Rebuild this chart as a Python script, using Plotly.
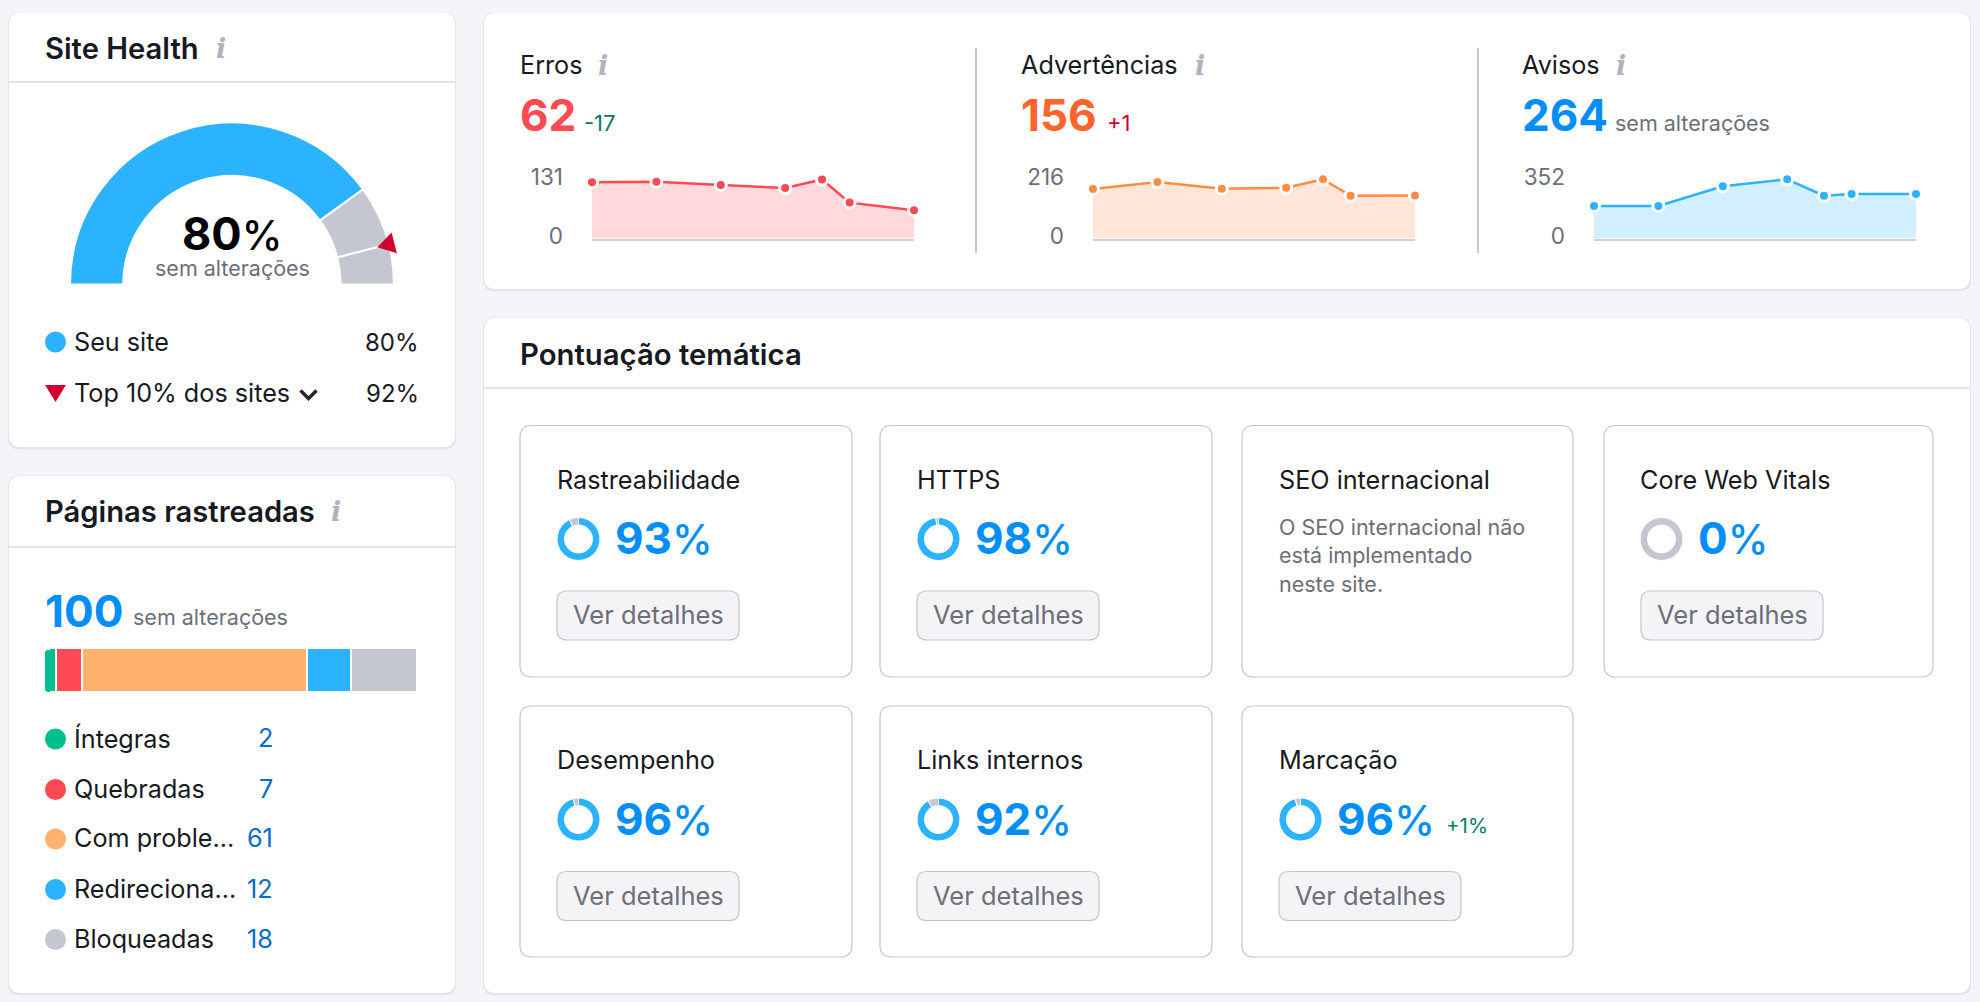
import math
import plotly.graph_objects as go

W, H = 1980, 1002
FONT = "Inter"
INK = "#171A22"
MUTED = "#6C6E79"
GREY = "#C4C7CF"
BLUE = "#2BB3FF"
BLUE_TXT = "#008FF8"
ICON = "#B0B3BF"
GREEN_TXT = "#007C65"
RED_MARK = "#D1002F"

# ---------- data ----------
health_value = 80
health_top = 92
health_rest = 100 - health_top

page_labels = ["Íntegras", "Quebradas", "Com proble...", "Redireciona...", "Bloqueadas"]
page_values = [2, 7, 61, 12, 18]
page_colors = ["#00BF8F", "#FF4953", "#FFB26E", "#2BB3FF", "#C4C7CF"]

spark_days = [0, 7, 14, 21, 25, 28, 35]
errors = [124, 125, 118, 111, 130, 79, 62]
warnings = [180, 205, 181, 184, 215, 155, 156]
notices = [193, 193, 309, 350, 253, 264, 264]
spark_max = [131, 216, 352]

theme_names = ["Rastreabilidade", "HTTPS", "Core Web Vitals", "Desempenho", "Links internos", "Marcação"]
theme_scores = [93, 98, 0, 96, 92, 96]
theme_delta = ["", "", "", "", "", "+1%"]

fig = go.Figure()
shapes, annos = [], []


def text(x, y, s, size=25.2, color=INK, weight=400, anchor="left", family=FONT, italic=False):
    dx = -1.5 if anchor == "left" else (2 if anchor == "right" else 0)
    annos.append(dict(x=x + dx, y=y, xref="x", yref="y", text=s, showarrow=False, xanchor=anchor,
                      yanchor="middle", borderpad=0, align=anchor,
                      font=dict(family=family, size=size, color=color, weight=weight,
                                style="italic" if italic else "normal")))


def pct(v):
    return f'{v}<span style="font-size:41px;font-weight:500">%</span>'


def rrect(x0, y0, x1, y1, r, fill=None, line=None, lw=1):
    p = (f"M{x0+r},{y0} L{x1-r},{y0} Q{x1},{y0} {x1},{y0+r} L{x1},{y1-r} Q{x1},{y1} {x1-r},{y1} "
         f"L{x0+r},{y1} Q{x0},{y1} {x0},{y1-r} L{x0},{y0+r} Q{x0},{y0} {x0+r},{y0} Z")
    shapes.append(dict(type="path", path=p, xref="x", yref="y", layer="below",
                       fillcolor=fill or "rgba(0,0,0,0)",
                       line=dict(color=line or "rgba(0,0,0,0)", width=lw if line else 0)))


def hline(x0, x1, y, color="#E4E5EB", lw=2):
    shapes.append(dict(type="line", x0=x0, x1=x1, y0=y, y1=y, xref="x", yref="y", layer="below",
                       line=dict(color=color, width=lw)))


def vline(x, y0, y1, color=GREY, lw=2):
    shapes.append(dict(type="line", x0=x, x1=x, y0=y0, y1=y1, xref="x", yref="y", layer="below",
                       line=dict(color=color, width=lw)))


def card(x0, y0, x1, y1):
    rrect(x0 - 1, y0 - 0.5, x1 + 1, y1 + 2.5, 12, fill="#E3E5EB")
    rrect(x0, y0, x1, y1, 12, fill="#FFFFFF")


def info(x, y):
    text(x, y, "i", size=27, color=ICON, weight=700, anchor="center",
         family="DejaVu Serif", italic=True)


def dom_x(a, b):
    return [a / W, b / W]


def dom_y(top, bottom):
    return [1 - bottom / H, 1 - top / H]


def ring(cx, cy, r, values, colors, hole, widths):
    fig.add_trace(go.Pie(values=values, sort=False, direction="clockwise",
                         rotation=270 if len(values) == 4 else 0,
                         hole=hole, textinfo="none", hoverinfo="skip", showlegend=False,
                         marker=dict(colors=colors, line=dict(color="#FFFFFF", width=widths)),
                         domain=dict(x=dom_x(cx - r, cx + r), y=dom_y(cy - r, cy + r))))


# ---------- background cards ----------
card(9, 12.5, 455, 447)
card(9, 476, 455, 993)
card(484, 12.5, 1970, 289)
card(484, 318, 1970, 993)
hline(9, 455, 82)
hline(9, 455, 547)
hline(484, 1970, 388)

# ---------- Site Health ----------
text(45, 48, "Site Health", size=29.2, weight=600)
info(221, 48)
gx, gy, gr = 232, 284.5, 161
ring(gx, gy, gr + 1, [health_value, health_top - health_value, health_rest, 100],
     [BLUE, GREY, GREY, "rgba(0,0,0,0)"], 108.7 / 162, [2, 2, 2, 0])
text(232, 233, pct(health_value), size=45, color="#000000", weight=700, anchor="center")
text(232, 268, "sem alterações", size=21.5, color=MUTED, anchor="center")
a = math.radians(180 * (1 - health_top / 100))
ux, uy = math.cos(a), -math.sin(a)
tip = (gx + 150 * ux, gy + 150 * uy)
bc = (gx + 167.5 * ux, gy + 167.5 * uy)
p1 = (bc[0] - 10.7 * uy, bc[1] + 10.7 * ux)
p2 = (bc[0] + 10.7 * uy, bc[1] - 10.7 * ux)
shapes.append(dict(type="path", xref="x", yref="y", layer="above", fillcolor=RED_MARK,
                   line=dict(width=0),
                   path=f"M{tip[0]},{tip[1]} L{p1[0]},{p1[1]} L{p2[0]},{p2[1]} Z"))

key_y = [342, 393]
text(74, key_y[0], "Seu site")
text(74, key_y[1], "Top 10% dos sites")
text(418, key_y[0], f"{health_value}%", size=24, anchor="right")
text(418, key_y[1], f"{health_top}%", size=24, anchor="right")
shapes.append(dict(type="path", xref="x", yref="y", layer="above", path="M300.5,390.5 L308.5,398.5 L316.5,390.5",
                   line=dict(color="#24272E", width=3.5)))
shapes.append(dict(type="path", xref="x", yref="y", layer="above", fillcolor=RED_MARK, line=dict(width=0),
                   path="M45,385 L66,385 L55.5,402 Z"))

# ---------- Páginas rastreadas ----------
text(45, 511, "Páginas rastreadas", size=29.2, weight=600)
info(336, 511)
text(45, 611, "100", size=44, color=BLUE_TXT, weight=700)
text(133, 617, "sem alterações", size=21.5, color=MUTED)
row_y = [738, 788.5, 838, 888.5, 938.5]
for lab, val, yy in zip(page_labels, page_values, row_y):
    text(74, yy, lab)
    text(272, yy, str(val), color="#006DCA", anchor="right")

# base axes trace: legend keys
fig.add_trace(go.Scatter(x=[55.5] * 6, y=[key_y[0]] + [v + 1 for v in row_y], mode="markers", hoverinfo="skip",
                         marker=dict(size=21, color=[BLUE] + page_colors), showlegend=False,
                         xaxis="x", yaxis="y"))

# stacked bar, with the small rounded cap of its first segment
rrect(45, 650, 56, 692, 3, fill=page_colors[0])
for lab, val, col in zip(page_labels, page_values, page_colors):
    fig.add_trace(go.Bar(x=[val], y=["p"], orientation="h", marker=dict(color=col, line=dict(color="#FFFFFF", width=1.6)),
                         hoverinfo="skip", showlegend=False, xaxis="x5", yaxis="y5"))

# ---------- Sparklines ----------
spark_panels = [
    dict(name="Erros", val=62, series=errors, col="#FF4953", fill="#FFD9DC", num="#FF4953", tx=520, left=592,
         ic=603, delta="-17", dcol=GREEN_TXT, dx=584),
    dict(name="Advertências", val=156, series=warnings, col="#FF8C43", fill="#FFE6D9", num="#FF642D", tx=1021, left=1093,
         ic=1200, delta="+1", dcol=RED_MARK, dx=1107),
    dict(name="Avisos", val=264, series=notices, col="#2BB3FF", fill="#D2EFFF", num=BLUE_TXT, tx=1522, left=1594,
         ic=1621, delta="sem alterações", dcol=MUTED, dx=1615),
]
layout_axes = {}
for i, (p, top) in enumerate(zip(spark_panels, spark_max)):
    n = i + 2
    text(p["tx"], 65, p["name"])
    info(p["ic"], 65)
    text(p["tx"], 115, str(p["val"]), size=44, color=p["num"], weight=700)
    if p["delta"].startswith("sem"):
        text(p["dx"], 123, p["delta"], size=21.5, color=p["dcol"])
    else:
        text(p["dx"], 123, p["delta"], size=22, color=p["dcol"])
    fig.add_trace(go.Scatter(x=spark_days, y=p["series"], mode="lines+markers", fill="tozeroy",
                             fillcolor=p["fill"], line=dict(color=p["col"], width=2.5),
                             marker=dict(size=11, color=p["col"], line=dict(color="#FFFFFF", width=3)),
                             cliponaxis=False, hoverinfo="skip", showlegend=False,
                             xaxis=f"x{n}", yaxis=f"y{n}"))
    layout_axes[f"xaxis{n}"] = dict(domain=dom_x(p["left"], p["left"] + 322), range=[0, 35], anchor=f"y{n}",
                                    showgrid=False, zeroline=False, showticklabels=False, ticks="",
                                    showline=True, linecolor="rgba(190,185,200,0.7)", linewidth=2, fixedrange=True)
    layout_axes[f"yaxis{n}"] = dict(domain=dom_y(179, 238.5), range=[0, top], anchor=f"x{n}",
                                    tickvals=[0, top], ticktext=["0", str(top)], showgrid=True,
                                    gridcolor="#E4E5EB", gridwidth=2, zeroline=False, showline=False, ticks="",
                                    ticklabelstandoff=28, ticklabelshift=-2,
                                    tickfont=dict(family=FONT, size=22.5, color=MUTED), fixedrange=True)
vline(976, 48, 253)
vline(1478, 48, 253)

# ---------- Pontuação temática ----------
text(520, 354, "Pontuação temática", size=29.3, weight=600)
cols = [(520, 852), (880, 1212), (1242, 1573), (1604, 1933)]
rows = [(425.5, 677), (706, 957)]
slots = [(0, 0), (1, 0), (3, 0), (0, 1), (1, 1), (2, 1)]
for (c, r) in slots + [(2, 0)]:
    rrect(cols[c][0], rows[r][0], cols[c][1], rows[r][1], 12, line=GREY, lw=1.2)
for nm, sc, dl, (c, r) in zip(theme_names, theme_scores, theme_delta, slots):
    x0 = cols[c][0]
    y0 = rows[r][0]
    tx = x0 + (36 if c == 3 else 37)
    text(tx, y0 + 54, nm)
    cy = y0 + 113.5
    ring(tx + 21.5, cy, 21.5, [sc, 100 - sc], [BLUE, GREY] if sc else ["rgba(0,0,0,0)", GREY], 0.65, 1)
    text(tx + 58, cy - 1, pct(sc), size=44, color=BLUE_TXT, weight=700)
    if dl:
        text(x0 + 204, cy + 6, dl, size=20.5, color=GREEN_TXT)
    bx = x0 + 37
    by = y0 + 165.5
    rrect(bx, by, bx + 182, by + 49, 10, fill="#F4F4F6", line=GREY, lw=1.2)
    text(bx + 91, by + 23.5, "Ver detalhes", size=25.5, color=MUTED, anchor="center")

seo_x = cols[2][0] + 37
text(seo_x, 479.5, "SEO internacional")
for yy, line in zip([527, 555, 584], ["O SEO internacional não", "está implementado", "neste site."]):
    text(seo_x, yy, line, size=21.5, color=MUTED)

# ---------- layout ----------
fig.update_layout(
    width=W, height=H, margin=dict(l=0, r=0, t=0, b=0, autoexpand=False), paper_bgcolor="#F4F5F9", plot_bgcolor="rgba(0,0,0,0)",
    font=dict(family=FONT), showlegend=False, hovermode=False, barmode="stack", bargap=0, barcornerradius=3,
    shapes=shapes, annotations=annos,
    xaxis=dict(domain=[0, 1], range=[0, W], visible=False, fixedrange=True),
    yaxis=dict(domain=[0, 1], range=[H, 0], visible=False, fixedrange=True),
    xaxis5=dict(domain=dom_x(50, 418), range=[0, 100], visible=False, anchor="y5", fixedrange=True),
    yaxis5=dict(domain=dom_y(649, 693), visible=False, anchor="x5", fixedrange=True),
    **layout_axes,
)
fig.write_html("out.html", config={"displayModeBar": False},
               post_script="document.body.style.margin='0';document.body.style.overflow='hidden';")
